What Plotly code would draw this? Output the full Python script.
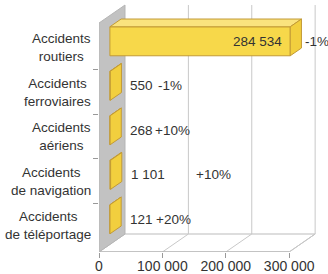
import plotly.graph_objects as go

# ---------------- data ----------------
categories = ["Accidents<br>routiers", "Accidents<br>ferroviaires", "Accidents<br>aériens",
              "Accidents<br>de navigation", "Accidents<br>de téléportage"]
values = [284534, 550, 268, 1101, 121]
changes = ["-1%", "-1%", "+10%", "+10%", "+20%"]
x_ticks = [0, 100000, 200000, 300000]
x_tick_labels = ["0", "100 000", "200 000", "300 000"]

# ---------------- layout / projection constants (style) ----------------
W, H = 328, 274
ML, MR, MT, MB = 99, 4, 0, 22
XMAX = 355000
px_per_unit = (W - ML - MR) / XMAX
Y0_PX, YU = 47.5, 44.5                 # px of first category centre, px per category
plot_h = H - MT - MB
y_top = -(Y0_PX - MT) / YU
y_bot = (plot_h - (Y0_PX - MT)) / YU
DX = 26 / px_per_unit                   # depth offset in x (data units)
DY = 18 / YU                            # depth offset in y (category units)
WALL_TOP = -0.55
FLOOR = y_bot
DF, DB = 0.42, 0.85                     # bar front / back depth
HH = 0.326                              # half bar height
BAR_DY = 0.03                           # small vertical nudge of the bars

def P(v, y, d):
    return v + d * DX, y - d * DY

def poly(pts):
    xs, ys = zip(*[P(*p) for p in pts])
    return list(xs) + [xs[0]], list(ys) + [ys[0]]

fig = go.Figure()

def add_poly(pts, fill, line="rgba(0,0,0,0)", lw=1):
    xs, ys = poly(pts)
    fig.add_trace(go.Scatter(x=xs, y=ys, mode="lines", fill="toself", fillcolor=fill,
                             line=dict(color=line, width=lw), hoverinfo="skip", showlegend=False))

def add_line(p1, p2, color="#CCCCCC", lw=1):
    (x1, y1), (x2, y2) = P(*p1), P(*p2)
    fig.add_trace(go.Scatter(x=[x1, x2], y=[y1, y2], mode="lines",
                             line=dict(color=color, width=lw), hoverinfo="skip", showlegend=False))

xmax_grid = x_ticks[-1]
# floor
add_poly([(0, FLOOR, 0), (xmax_grid, FLOOR, 0), (xmax_grid, FLOOR, 1), (0, FLOOR, 1)], "white", "#BBBBBB", 1)
# grid lines on floor and back wall
for t in x_ticks[1:]:
    add_line((t, FLOOR, 0), (t, FLOOR, 1), "#C8C8C8")
    add_line((t, FLOOR, 1), (t, WALL_TOP, 1), "#C8C8C8")
add_line((0, FLOOR, 0), (xmax_grid, FLOOR, 0), "#A8A8A8")
# left wall
add_poly([(0, WALL_TOP, 0), (0, WALL_TOP, 1), (0, FLOOR, 1), (0, FLOOR, 0)], "#C2C2C2", "#B5B5B5", 1)

# bars
front_c, top_c, end_c, edge_c = "#F7D84A", "#FAE37E", "#F2CF3E", "#C29A35"
for i, v in enumerate(values):
    yc = i + BAR_DY
    add_poly([(0, yc - HH, DF), (v, yc - HH, DF), (v, yc + HH, DF), (0, yc + HH, DF)], front_c, edge_c, 1)
    add_poly([(0, yc - HH, DF), (v, yc - HH, DF), (v, yc - HH, DB), (0, yc - HH, DB)], top_c, edge_c, 1)
    add_poly([(v, yc - HH, DF), (v, yc + HH, DF), (v, yc + HH, DB), (v, yc - HH, DB)], end_c, edge_c, 1)

def fmt(n):
    return f"{n:,}".replace(",", " ")

txt_font = dict(family="Liberation Sans, Arial, sans-serif", size=13.5, color="#333333")
change_shift = [2, 35, 32, 72, 33]
for i, (v, c) in enumerate(zip(values, changes)):
    xe, ye = P(v, i + BAR_DY, DF)
    xend, _ = P(v, i, DB)
    if v > 50000:
        fig.add_annotation(x=xe, y=ye, text=fmt(v), showarrow=False, xanchor="right",
                           xshift=-6, font=txt_font)
    else:
        fig.add_annotation(x=xend, y=ye, text=fmt(v), showarrow=False, xanchor="left",
                           xshift=7, font=txt_font)
    fig.add_annotation(x=xend, y=ye, text=c, showarrow=False, xanchor="left",
                       xshift=change_shift[i], font=txt_font)

for i, cat in enumerate(categories):
    fig.add_annotation(x=0, xref="paper", y=i, yref="y", text=cat, showarrow=False,
                       xanchor="right", align="center", xshift=-6,
                       font=dict(family="Liberation Sans, Arial, sans-serif", size=13.5, color="#333333"))

fig.update_layout(
    width=W, height=H, margin=dict(l=ML, r=MR, t=MT, b=MB),
    paper_bgcolor="white", plot_bgcolor="white",
    xaxis=dict(range=[0, XMAX], showgrid=False, zeroline=False, showline=False, automargin=False,
               tickvals=x_ticks, ticktext=x_tick_labels, ticks="outside", ticklen=5,
               ticklabelstandoff=-4,
               tickcolor="#999999", tickfont=dict(family="Liberation Sans, Arial, sans-serif",
                                                   size=14, color="#333333")),
    yaxis=dict(range=[y_bot, y_top], showgrid=False, zeroline=False, showline=False, automargin=False,
               tickvals=[0.5, 1.5, 2.5, 3.5], ticks="outside", ticklen=5, tickcolor="#999999",
               showticklabels=False),
    showlegend=False,
)

fig.write_html("out.html", config={"displayModeBar": False},
               post_script="document.body.style.margin='0';")
